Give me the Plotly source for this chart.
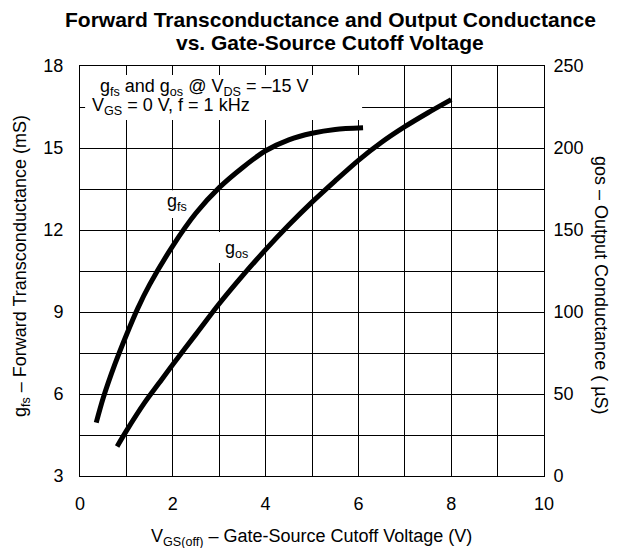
import plotly.graph_objects as go

# ---- data ----
gfs_vgs = [0.35, 0.5, 0.75, 1.0, 1.25, 1.5, 2.0, 2.5, 3.0, 3.5, 4.0, 4.5, 5.0, 5.5, 6.1]
gfs_ms = [4.95, 5.85, 7.08, 8.16, 9.15, 10.0, 11.42, 12.62, 13.55, 14.28, 14.9, 15.3, 15.54, 15.68, 15.74]

gos_vgs = [0.8, 1.0, 1.4, 1.7, 2.0, 2.5, 3.0, 3.5, 4.0, 4.5, 5.0, 5.5, 6.0, 6.5, 7.0, 7.5, 8.0]
gos_us = [18, 27.5, 45, 56.5, 68, 86.5, 105, 122, 138, 153, 167, 180, 192.5, 203.5, 213, 221.5, 229.5]

x_ticks = [0, 2, 4, 6, 8, 10]
y_left_ticks = [3, 6, 9, 12, 15, 18]
y_right_ticks = [0, 50, 100, 150, 200, 250]

FONT = "Arial, Liberation Sans, sans-serif"

fig = go.Figure()
fig.add_trace(go.Scatter(x=gfs_vgs, y=gfs_ms, mode="lines",
                         line=dict(color="black", width=5, shape="spline", smoothing=0.8),
                         showlegend=False, hoverinfo="skip"))
fig.add_trace(go.Scatter(x=gos_vgs, y=gos_us, mode="lines", yaxis="y2",
                         line=dict(color="black", width=5, shape="spline", smoothing=0.8),
                         showlegend=False, hoverinfo="skip"))

axis_common = dict(showline=True, linecolor="black", linewidth=1, zeroline=False,
                   tickfont=dict(size=18, color="black", family=FONT), ticks="")

# page body has an 8px default margin: figure is 610x540 placed at (8,8)
fig.update_layout(
    width=610, height=540,
    margin=dict(l=72, r=74, t=58, b=72),
    paper_bgcolor="white", plot_bgcolor="white",
    font=dict(family=FONT, color="black", size=18),
    xaxis=dict(range=[0, 10], tickvals=x_ticks, showgrid=True, gridcolor="black", gridwidth=1,
               minor=dict(dtick=1, showgrid=True, gridcolor="black", gridwidth=1),
               mirror=True, ticklabelstandoff=11, **axis_common),
    yaxis=dict(range=[3, 18], tickvals=y_left_ticks, showgrid=True, gridcolor="black", gridwidth=1,
               minor=dict(dtick=1.5, tick0=3, showgrid=True, gridcolor="black", gridwidth=1),
               ticklabelstandoff=12, **axis_common),
    yaxis2=dict(range=[0, 250], tickvals=y_right_ticks, overlaying="y", side="right",
                showgrid=False, ticklabelstandoff=5, **axis_common),
)

# white boxes behind labels (between grid and traces)
for x0, x1, y0, y1 in [(0.11, 6.08, 16.02, 17.67), (1.55, 2.55, 12.44, 13.45), (2.95, 3.77, 10.79, 11.93)]:
    fig.add_shape(type="rect", xref="x", yref="y", x0=x0, x1=x1, y0=y0, y1=y1,
                  fillcolor="white", line=dict(width=0), layer="between")

# plot area in page pixels: x 80..544, y 66..476
def px(xp):
    return (xp - 80) / 464

def py(yp):
    return (476 - yp) / 410

ann = []
ann.append(dict(text="<b>Forward Transconductance and Output Conductance</b>", xref="paper", yref="paper",
                x=px(330), y=py(20), xanchor="center", yanchor="middle",
                showarrow=False, font=dict(size=21, family=FONT)))
ann.append(dict(text="<b>vs. Gate-Source Cutoff Voltage</b>", xref="paper", yref="paper",
                x=px(330), y=py(43), xanchor="center", yanchor="middle",
                showarrow=False, font=dict(size=21, family=FONT)))
ann.append(dict(text="g<sub>fs</sub> and g<sub>os</sub> @ V<sub>DS</sub> = \u201315 V", xref="x", yref="y",
                x=0.39, y=18 - (87 - 66) / 27.33, xanchor="left", yanchor="middle", showarrow=False,
                font=dict(size=18)))
ann.append(dict(text="V<sub>GS</sub> = 0 V, f = 1 kHz", xref="x", yref="y",
                x=0.22, y=18 - (106 - 66) / 27.33, xanchor="left", yanchor="middle", showarrow=False,
                font=dict(size=18)))
ann.append(dict(text="g<sub>fs</sub>", xref="x", yref="y", x=2.09, y=12.99, showarrow=False,
                xanchor="center", yanchor="middle", font=dict(size=18)))
ann.append(dict(text="g<sub>os</sub>", xref="x", yref="y", x=3.38, y=11.30, showarrow=False,
                xanchor="center", yanchor="middle", font=dict(size=18)))
ann.append(dict(text="V<sub>GS(off)</sub> \u2013 Gate-Source Cutoff Voltage (V)", xref="paper", yref="paper",
                x=px(311), y=py(537), xanchor="center", yanchor="middle",
                showarrow=False, font=dict(size=18)))
ann.append(dict(text="g<sub>fs</sub> \u2013 Forward Transconductance (mS)", xref="paper", yref="paper",
                x=px(21), y=py(266), xanchor="center", yanchor="middle",
                textangle=-90, showarrow=False, font=dict(size=18)))
ann.append(dict(text="gos \u2013 Output Conductance ( \u00b5S)", xref="paper", yref="paper",
                x=px(601), y=py(285), xanchor="center", yanchor="middle",
                textangle=90, showarrow=False, font=dict(size=18)))
fig.update_layout(annotations=ann)

fig.write_html("out.html")
